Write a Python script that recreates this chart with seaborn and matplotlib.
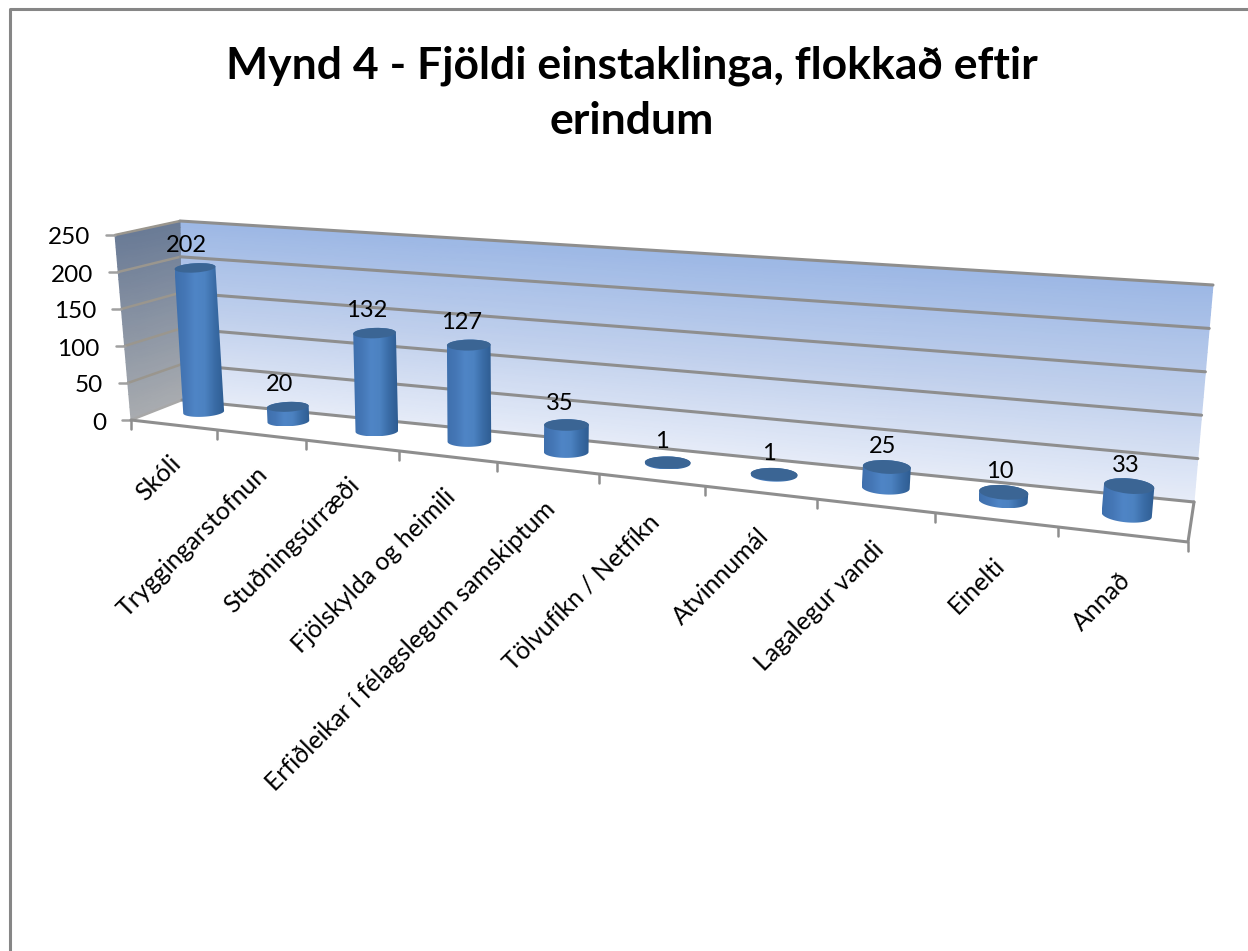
import numpy as np
import pandas as pd
import seaborn as sns
import matplotlib
matplotlib.use("Agg")
import matplotlib.pyplot as plt
from matplotlib.patches import Polygon, PathPatch, Ellipse
from matplotlib.path import Path
from matplotlib.colors import LinearSegmentedColormap

title = "Mynd 4 - Fjöldi einstaklinga, flokkað eftir\nerindum"
categories = ["Skóli", "Tryggingarstofnun", "Stuðningsúrræði", "Fjölskylda og heimili",
              "Erfiðleikar í félagslegum samskiptum", "Tölvufíkn / Netfíkn", "Atvinnumál",
              "Lagalegur vandi", "Einelti", "Annað"]
values = [202, 20, 132, 127, 35, 1, 1, 25, 10, 33]
y_ticks = [0, 50, 100, 150, 200, 250]

sns.set_theme(style="white")
plt.rcParams["font.family"] = ["Lato", "DejaVu Sans"]

# the box of the 3d chart, in pixels of the picture
FLB, FLT = np.array([131, 420.]), np.array([115, 235.])
BLB, BLT = np.array([182, 400.]), np.array([180, 221.])
FRB, FRT = np.array([1188, 542.]), np.array([1209, 310.])
BRB, BRT = np.array([1194, 502.]), np.array([1213, 285.])
YMAX = y_ticks[-1]
NCAT = len(categories)


def warp(u):
    return u / (1.26 - 0.26 * u)


def project(cat, val, depth=0.0):
    # cat in category units, val in chart units, depth 0 front 1 back
    t = warp((cat + 0.5) / NCAT)
    h = val / YMAX
    front = (FLB * (1 - t) + FRB * t) * (1 - h) + (FLT * (1 - t) + FRT * t) * h
    back = (BLB * (1 - t) + BRB * t) * (1 - h) + (BLT * (1 - t) + BRT * t) * h
    return front * (1 - depth) + back * depth


fig = plt.figure(figsize=(12.48, 9.51), dpi=100)

# seaborn gives the bars, they are redrawn as cylinders through project()
bar_ax = fig.add_axes([0, 0, 1, 1])
df = pd.DataFrame({"category": categories, "value": values})
sns.barplot(data=df, x="category", y="value", width=0.44, ax=bar_ax)
bars = [(p.get_x() + p.get_width() / 2, p.get_width(), p.get_height()) for p in bar_ax.patches]
bar_ax.set_visible(False)

ax = fig.add_axes([0, 0, 1, 1])
ax.set_xlim(0, 1248)
ax.set_ylim(951, 0)
ax.axis("off")

# chart border
ax.plot([10, 10, 1248], [951, 9, 9], color="#868686", lw=2.2, zorder=1)

# walls
back_cmap = LinearSegmentedColormap.from_list("back", ["#e6ecf8", "#bfcfec", "#9db8e5"])
side_cmap = LinearSegmentedColormap.from_list("side", ["#a9acb0", "#6a7b96"])
cats = np.array([-0.5, NCAT - 0.5])
vals = np.linspace(0, YMAX, 30)
back_pts = np.array([[project(c, v, 1) for c in cats] for v in vals])
ax.pcolormesh(back_pts[..., 0], back_pts[..., 1], np.outer(vals, [1, 1]), shading="gouraud",
              cmap=back_cmap, zorder=2)
depths = np.array([0, 1.0])
side_pts = np.array([[project(-0.5, v, d) for d in depths] for v in vals])
ax.pcolormesh(side_pts[..., 0], side_pts[..., 1], np.outer(vals, [1, 1]), shading="gouraud",
              cmap=side_cmap, zorder=2)
ax.set_xlim(0, 1248)
ax.set_ylim(951, 0)

# floor
floor = [project(-0.5, 0, 0), project(NCAT - 0.5, 0, 0), project(NCAT - 0.5, 0, 1), project(-0.5, 0, 1)]
ax.add_patch(Polygon(floor, closed=True, fc="white", ec="none", zorder=3))

# gridlines and value axis
for v in y_ticks:
    a, b, c = project(-0.5, v, 0), project(-0.5, v, 1), project(NCAT - 0.5, v, 1)
    ax.plot([a[0], b[0]], [a[1], b[1]], color="#9a968e" if v else "#a8a8a8", lw=1.8, zorder=4)
    ax.plot([b[0], c[0]], [b[1], c[1]], color="#8e8e8e", lw=2.2, zorder=4)
    ax.plot([a[0] - 9, a[0]], [a[1], a[1]], color="#a0a0a0", lw=1.8, zorder=4)
    ax.text(a[0] - 25, a[1] + 3, str(v), ha="right", va="center", fontsize=17.5, color="black", zorder=9)

# floor edges and category ticks
a, b, c = project(-0.5, 0, 0), project(NCAT - 0.5, 0, 0), project(NCAT - 0.5, 0, 1)
ax.plot([a[0], b[0], c[0]], [a[1], b[1], c[1]], color="#8e8e8e", lw=2.2, zorder=4)
for i in range(NCAT + 1):
    p = project(i - 0.5, 0, 0)
    ax.plot([p[0], p[0]], [p[1], p[1] + 9], color="#8e8e8e", lw=1.8, zorder=4)

# cylinders
body_cmap = LinearSegmentedColormap.from_list(
    "body", ["#3f70ad", "#4577b6", "#4f85c6", "#4c82c1", "#3a6ca6", "#2e5c91"])
grad = np.linspace(0, 1, 128).reshape(1, -1)

for cat, width, val in bars:
    t = warp((cat + 0.5) / NCAT)
    r = width * (46 + 12 * t)
    ry = 4.5 + 3.3 * t
    angle = np.radians(-4 + 10 * t)
    depth = 0.62 - 0.12 * t
    bottom = project(cat, 0, depth)
    top = project(cat, val, depth)
    # tall bars on the left lean a bit more than the box does
    top[0] -= 0.02 * val * (1 - t) ** 3
    top[1] += 0.018 * val
    th = np.linspace(0, np.pi, 40)
    # lower half of bottom ellipse then upper half of top ellipse
    ex, ey = r * np.cos(th), ry * np.sin(th)
    ex2 = ex * np.cos(angle) - ey * np.sin(angle)
    ey2 = ex * np.sin(angle) + ey * np.cos(angle)
    low = np.column_stack([bottom[0] + ex2, bottom[1] + ey2])
    high = np.column_stack([top[0] - ex2, top[1] - ey2])
    outline = np.vstack([low, high, low[:1]])
    clip = PathPatch(Path(outline), transform=ax.transData, fc="none", ec="none")
    ax.add_patch(clip)
    xs = outline[:, 0]
    im = ax.imshow(grad, cmap=body_cmap, extent=[xs.min(), xs.max(), outline[:, 1].max(), outline[:, 1].min()],
                   aspect="auto", zorder=5, interpolation="bilinear")
    im.set_clip_path(clip)
    ax.add_patch(Ellipse(top, 2 * r, 2 * ry, angle=np.degrees(angle), fc="#3b6594", ec="none", zorder=6))
    ax.text(top[0] - 9 + 6 * t, top[1] - 23 + 3 * t, str(int(val)), ha="center", va="center", fontsize=17,
            color="black", zorder=9)

ax.set_xlim(0, 1248)
ax.set_ylim(951, 0)

# category labels
for i, name in enumerate(categories):
    p = project(i, 0, 0)
    t = warp((i + 0.5) / NCAT)
    ax.text(p[0] + 3 + 2 * t, p[1] + 34 + 9 * t, name, rotation=45, rotation_mode="anchor",
            ha="right", va="center", fontsize=18, color="black", zorder=9)

ax.text(632, 93, title, ha="center", va="center", fontsize=32, fontweight="bold", color="black",
        linespacing=1.45, zorder=9)

fig.savefig("out.png", dpi=100, facecolor="white")
